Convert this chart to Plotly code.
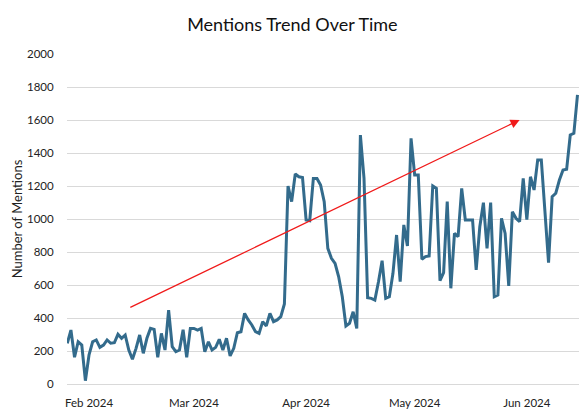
import pandas as pd
import plotly.graph_objects as go

start_date = "2024-01-26"
mentions = [
    247, 327, 162, 256, 236, 20, 176, 256, 267, 222,
    236, 267, 247, 250, 301, 277, 297, 206, 150, 216,
    297, 186, 277, 337, 331, 162, 307, 206, 448, 226,
    196, 206, 329, 162, 337, 337, 327, 337, 196, 256,
    206, 222, 271, 206, 277, 170, 216, 311, 317, 428,
    388, 358, 317, 307, 378, 352, 428, 378, 388, 408,
    485, 1200, 1105, 1273, 1256, 1252, 994, 990, 1246, 1246,
    1206, 1105, 822, 762, 731, 650, 529, 352, 368, 438,
    337, 1509, 1246, 523, 519, 509, 620, 747, 519, 529,
    671, 903, 620, 964, 836, 1489, 1267, 1267, 756, 772,
    776, 1200, 1186, 626, 675, 1105, 580, 913, 893, 1186,
    994, 994, 994, 691, 953, 1099, 822, 1099, 529, 539,
    1004, 913, 594, 1044, 1004, 984, 1246, 997, 1256, 1176,
    1358, 1358, 1034, 735, 1135, 1156, 1236, 1297, 1301, 1509,
    1519, 1752,
]
dates = pd.date_range(start_date, periods=len(mentions), freq="D")

y_ticks = [0, 200, 400, 600, 800, 1000, 1200, 1400, 1600, 1800, 2000]
arrow_tail = ("2024-02-12", 460)
arrow_head = ("2024-05-30", 1600)

fig = go.Figure()
fig.add_trace(go.Scatter(
    x=dates, y=mentions, mode="lines",
    line=dict(color="#336b8c", width=3),
    showlegend=False, cliponaxis=False,
))

fig.add_annotation(
    x=arrow_head[0], y=arrow_head[1],
    ax=arrow_tail[0], ay=arrow_tail[1],
    xref="x", yref="y", axref="x", ayref="y",
    showarrow=True, arrowhead=2, arrowsize=1.4, arrowwidth=1.3,
    arrowcolor="#f01a1a", text="",
)

font_family = "Lato, Open Sans, sans-serif"
fig.update_layout(
    width=579, height=409,
    margin=dict(l=67, r=0, t=54, b=25, autoexpand=False),
    paper_bgcolor="white", plot_bgcolor="white",
    font=dict(family=font_family, color="#1a1a1a"),
    title=dict(text="Mentions Trend Over Time", x=0.505, xanchor="center",
               y=0.94, yanchor="middle", font=dict(size=18, color="#111111")),
)
fig.update_xaxes(
    type="date", automargin=False,
    range=[dates[0] - pd.Timedelta(hours=2), dates[-1] + pd.Timedelta(hours=10)],
    tickformat="%b %Y", dtick="M1", tick0="2024-02-01",
    showgrid=False, zeroline=False, showline=False,
    ticks="outside", ticklen=8, tickcolor="rgba(0,0,0,0)",
    tickfont=dict(size=11.5, color="#222222"),
)
fig.update_yaxes(
    automargin=False,
    range=[0, 2000], tickvals=y_ticks,
    showgrid=True, gridcolor="#d9d9d9", gridwidth=1,
    zeroline=True, zerolinecolor="#d9d9d9", zerolinewidth=1,
    showline=False,
    ticks="outside", ticklen=10, tickcolor="rgba(0,0,0,0)",
    tickfont=dict(size=11.5, color="#222222"),
    title=dict(text="Number of Mentions", font=dict(size=13, color="#222222"), standoff=1),
)

fig.write_html("out.html", config={"displayModeBar": False})

# remove the browser's default page margin so the figure sits at the top-left corner
with open("out.html", encoding="utf-8") as fh:
    html = fh.read()
html = html.replace("<head>", "<head><style>html,body{margin:0;padding:0;overflow:hidden;}</style>", 1)
with open("out.html", "w", encoding="utf-8") as fh:
    fh.write(html)
